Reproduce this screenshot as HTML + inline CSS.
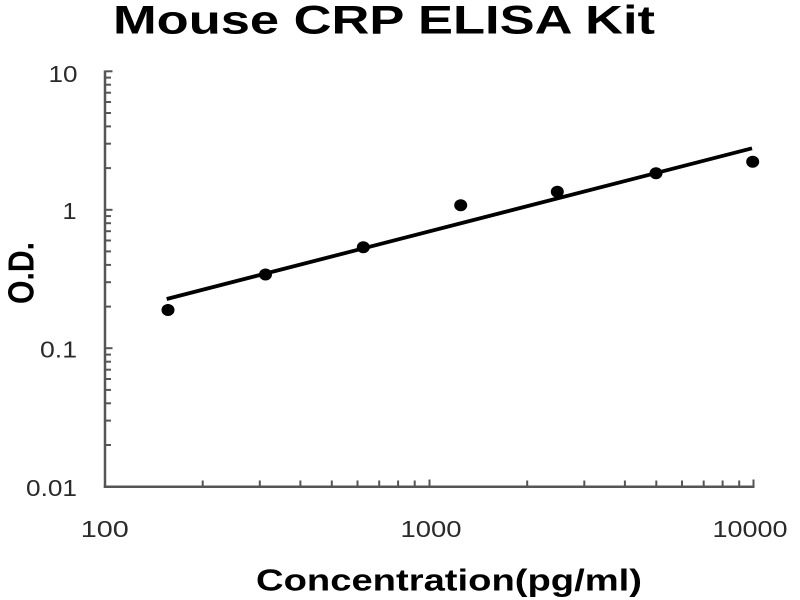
<!DOCTYPE html>
<html>
<head>
<meta charset="utf-8">
<style>
  html, body { margin: 0; padding: 0; background: #ffffff; }
  body { width: 800px; height: 600px; overflow: hidden; }
  svg { display: block; }
</style>
</head>
<body>
<svg width="800" height="600" viewBox="0 0 800 600" xmlns="http://www.w3.org/2000/svg">
  <rect x="0" y="0" width="800" height="600" fill="#ffffff"/>

  <!-- Title -->
  <text x="113" y="33.5" font-family="Liberation Sans, Arial, sans-serif" font-weight="bold" font-size="39.5" fill="#000" textLength="542" lengthAdjust="spacingAndGlyphs">Mouse CRP ELISA Kit</text>

  <!-- Axes -->
  <g stroke="#555" stroke-width="2.5" fill="none">
    <line x1="105" y1="70.5" x2="105" y2="487.9"/>
    <line x1="103.8" y1="486.7" x2="754.5" y2="486.7"/>
  </g>

  <!-- Y ticks -->
  <g stroke="#555" stroke-width="2">
    <line x1="105" y1="71.3" x2="112.5" y2="71.3"/>
    <line x1="105" y1="209.8" x2="112.5" y2="209.8"/>
    <line x1="105" y1="348.2" x2="112.5" y2="348.2"/>
    <line x1="105" y1="445.0" x2="111" y2="445.0"/>
    <line x1="105" y1="420.6" x2="111" y2="420.6"/>
    <line x1="105" y1="403.3" x2="111" y2="403.3"/>
    <line x1="105" y1="389.9" x2="111" y2="389.9"/>
    <line x1="105" y1="379.0" x2="111" y2="379.0"/>
    <line x1="105" y1="369.7" x2="111" y2="369.7"/>
    <line x1="105" y1="361.7" x2="111" y2="361.7"/>
    <line x1="105" y1="354.6" x2="111" y2="354.6"/>
    <line x1="105" y1="306.6" x2="111" y2="306.6"/>
    <line x1="105" y1="282.2" x2="111" y2="282.2"/>
    <line x1="105" y1="264.9" x2="111" y2="264.9"/>
    <line x1="105" y1="251.4" x2="111" y2="251.4"/>
    <line x1="105" y1="240.5" x2="111" y2="240.5"/>
    <line x1="105" y1="231.2" x2="111" y2="231.2"/>
    <line x1="105" y1="223.2" x2="111" y2="223.2"/>
    <line x1="105" y1="216.1" x2="111" y2="216.1"/>
    <line x1="105" y1="168.1" x2="111" y2="168.1"/>
    <line x1="105" y1="143.7" x2="111" y2="143.7"/>
    <line x1="105" y1="126.4" x2="111" y2="126.4"/>
    <line x1="105" y1="113.0" x2="111" y2="113.0"/>
    <line x1="105" y1="102.0" x2="111" y2="102.0"/>
    <line x1="105" y1="92.7" x2="111" y2="92.7"/>
    <line x1="105" y1="84.7" x2="111" y2="84.7"/>
    <line x1="105" y1="77.6" x2="111" y2="77.6"/>
  </g>

  <!-- X ticks -->
  <g stroke="#555" stroke-width="2">
    <line x1="202.7" y1="486.7" x2="202.7" y2="480.5"/>
    <line x1="259.8" y1="486.7" x2="259.8" y2="480.5"/>
    <line x1="300.4" y1="486.7" x2="300.4" y2="480.5"/>
    <line x1="331.8" y1="486.7" x2="331.8" y2="480.5"/>
    <line x1="357.5" y1="486.7" x2="357.5" y2="480.5"/>
    <line x1="379.2" y1="486.7" x2="379.2" y2="480.5"/>
    <line x1="398.1" y1="486.7" x2="398.1" y2="480.5"/>
    <line x1="414.7" y1="486.7" x2="414.7" y2="480.5"/>
    <line x1="429.5" y1="486.7" x2="429.5" y2="479.5"/>
    <line x1="527.2" y1="486.7" x2="527.2" y2="480.5"/>
    <line x1="584.3" y1="486.7" x2="584.3" y2="480.5"/>
    <line x1="624.9" y1="486.7" x2="624.9" y2="480.5"/>
    <line x1="656.3" y1="486.7" x2="656.3" y2="480.5"/>
    <line x1="682.0" y1="486.7" x2="682.0" y2="480.5"/>
    <line x1="703.7" y1="486.7" x2="703.7" y2="480.5"/>
    <line x1="722.6" y1="486.7" x2="722.6" y2="480.5"/>
    <line x1="739.2" y1="486.7" x2="739.2" y2="480.5"/>
    <line x1="753.5" y1="486.7" x2="753.5" y2="479.5"/>
  </g>

  <!-- Y tick labels -->
  <g font-family="Liberation Sans, Arial, sans-serif" font-size="23" fill="#2a2a2a" text-anchor="end">
    <text x="77.5" y="82" textLength="29" lengthAdjust="spacingAndGlyphs">10</text>
    <text x="76.5" y="219" textLength="14" lengthAdjust="spacingAndGlyphs">1</text>
    <text x="77" y="357.6" textLength="37" lengthAdjust="spacingAndGlyphs">0.1</text>
    <text x="77" y="496" textLength="51" lengthAdjust="spacingAndGlyphs">0.01</text>
  </g>

  <!-- X tick labels -->
  <g font-family="Liberation Sans, Arial, sans-serif" font-size="23.5" fill="#2a2a2a" text-anchor="middle">
    <text x="104.8" y="537" textLength="48" lengthAdjust="spacingAndGlyphs">100</text>
    <text x="431" y="537" textLength="61" lengthAdjust="spacingAndGlyphs">1000</text>
    <text x="750" y="537" textLength="75" lengthAdjust="spacingAndGlyphs">10000</text>
  </g>

  <!-- Axis titles -->
  <text x="256" y="590.5" font-family="Liberation Sans, Arial, sans-serif" font-weight="bold" font-size="31" fill="#000" textLength="386" lengthAdjust="spacingAndGlyphs">Concentration(pg/ml)</text>
  <text transform="translate(33.3,273) rotate(-90)" text-anchor="middle" font-family="Liberation Sans, Arial, sans-serif" font-weight="bold" font-size="36" fill="#000" textLength="62" lengthAdjust="spacingAndGlyphs">O.D.</text>

  <!-- Fit line -->
  <line x1="166.7" y1="299" x2="752" y2="148.3" stroke="#000" stroke-width="3.8" stroke-linecap="butt"/>

  <!-- Data points -->
  <g fill="#000">
    <ellipse cx="168" cy="310" rx="6.5" ry="6"/>
    <ellipse cx="265.5" cy="274.5" rx="6.5" ry="6"/>
    <ellipse cx="363.3" cy="247.3" rx="6.5" ry="6"/>
    <ellipse cx="460.7" cy="205.3" rx="6.5" ry="6"/>
    <ellipse cx="557.3" cy="191.7" rx="6.5" ry="6"/>
    <ellipse cx="656" cy="173.3" rx="6.5" ry="6"/>
    <ellipse cx="752.7" cy="161.7" rx="6.5" ry="6"/>
  </g>
</svg>
</body>
</html>
